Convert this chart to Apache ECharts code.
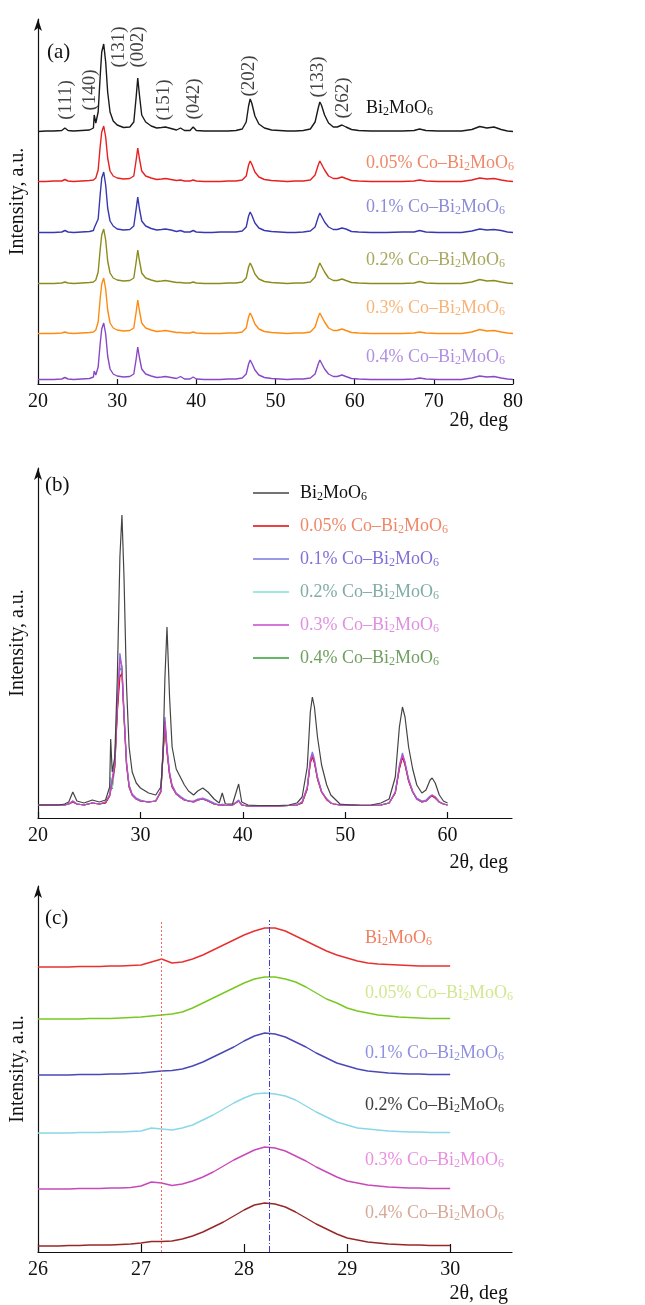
<!DOCTYPE html>
<html>
<head>
<meta charset="utf-8">
<script src="https://cdn.jsdelivr.net/npm/echarts@6/dist/echarts.min.js"></script>
<style>
  html, body { margin: 0; padding: 0; background: #fff; }
  #main { width: 645px; height: 1305px; }
</style>
</head>
<body>
<div id="main"></div>
<script>
// ---- panel (a): 2theta positions and peak heights (above each trace's own baseline)
var angA = [
  20, 21, 22, 23, 23.4, 23.8, 24.5, 25.5, 26.5,
  27.0, 27.1, 27.3, 27.6, 27.85, 28.05, 28.3, 28.55, 28.8, 29.1, 29.5, 30.0,
  30.8, 31.6, 32.1, 32.4, 32.6, 32.8, 33.1, 33.6, 34.3, 35.0,
  35.6, 36.1, 36.8, 37.5, 38.0, 38.5, 39.2, 39.6, 40.0,
  41, 42, 43, 44, 45,
  45.8, 46.3, 46.6, 46.8, 47.0, 47.4, 47.9, 48.6, 49.5, 50.5,
  51.5, 52.5, 53.5, 54.4, 55.0, 55.4, 55.6, 55.8, 56.2, 56.7,
  57.3, 57.8, 58.4, 58.9, 59.6, 60.5,
  62, 64, 66, 67.5, 68.2, 69, 70.5, 72, 73.5,
  74.8, 75.8, 76.7, 77.6, 78.5, 79.3, 80
];
var a_pure = [
  0.5, 1, 1, 1.5, 4, 1.5, 1, 1.5, 2,
  4, 17, 9, 20, 55, 80, 88, 70, 40, 20, 11, 7,
  4.5, 5, 10, 35, 54, 38, 17, 10, 6, 4,
  4.5, 5, 3.5, 2, 4, 1.5, 1.5, 5, 1.5,
  1, 1, 1, 1, 1.5,
  3, 10, 26, 33, 29, 16, 8, 4, 2, 1.5,
  1, 1, 1.5, 3, 10, 24, 30, 27, 17, 9,
  5, 5, 7, 5, 2.5, 1.5,
  1, 1, 1, 1.5, 3, 1.5, 1, 1, 1,
  2.5, 5.5, 4, 5, 2.5, 1, 0.5
];
var a_co005 = [
  0.5, 0.5, 1, 1, 2.5, 1, 0.5, 1, 1.5,
  2, 4, 4, 12, 35, 50, 56, 45, 24, 11, 6, 4,
  3, 3.5, 6, 22, 34, 24, 11, 6, 4, 2.5,
  3, 3.5, 2.5, 1.5, 2, 1, 1, 2, 1,
  0.5, 0.5, 0.5, 1, 1,
  2, 6, 17, 21, 18, 10, 5, 2.5, 1.5, 1,
  0.5, 1, 1, 2, 7, 17, 21, 19, 12, 6,
  3.5, 3.5, 5, 3.5, 1.5, 1,
  0.5, 0.5, 0.5, 1, 2, 1, 0.5, 0.5, 0.5,
  2, 4, 3, 3.5, 2, 1, 0.5
];
var a_co01 = [
  0.5, 0.5, 0.5, 1, 2.5, 1, 0.5, 1, 1.5,
  2.5, 5, 5, 14, 38, 55, 61, 48, 25, 12, 7, 4,
  3, 3.5, 7, 24, 36, 25, 12, 7, 4.5, 3,
  3.5, 4, 3, 1.5, 2.5, 1, 1, 2.5, 1,
  0.5, 0.5, 1, 1, 1,
  2, 6, 17, 21, 18, 10, 5, 2.5, 1.5, 1,
  0.5, 0.5, 1, 2, 6, 16, 20, 18, 11, 6,
  3.5, 3.5, 5, 4, 1.5, 1,
  0.5, 0.5, 1, 1, 2.5, 1, 0.5, 0.5, 0.5,
  2, 4, 3, 3.5, 2.5, 1, 0.5
];
var a_co02 = [
  0.5, 0.5, 0.5, 1, 2, 1, 0.5, 1, 1.5,
  2, 4, 4, 12, 34, 49, 55, 44, 23, 11, 6, 4,
  3, 3.5, 6, 22, 34, 24, 11, 6, 4, 2.5,
  3, 3.5, 2.5, 1.5, 1.5, 1, 1, 2, 1,
  0.5, 0.5, 0.5, 1, 1,
  2, 6, 17, 21, 18, 10, 5, 2.5, 1.5, 1,
  0.5, 1, 1, 2, 7, 17, 21, 19, 12, 6,
  3.5, 3.5, 5, 3.5, 1.5, 1,
  0.5, 0.5, 0.5, 1, 2.5, 1, 0.5, 0.5, 0.5,
  2, 4.5, 3, 3.5, 2, 1, 0.5
];
var a_co03 = [
  0.5, 0.5, 0.5, 1, 2, 1, 0.5, 1, 1.5,
  2, 4, 4, 12, 35, 50, 56, 45, 24, 11, 6, 4,
  3, 3.5, 6, 22, 34, 24, 11, 6, 4, 2.5,
  3, 3.5, 2.5, 1.5, 1.5, 1, 1, 2, 1,
  0.5, 0.5, 0.5, 1, 1,
  2, 6, 17, 21, 18, 10, 5, 2.5, 1.5, 1,
  0.5, 1, 1, 2, 7, 17, 21, 19, 12, 6,
  3.5, 3.5, 5, 3.5, 1.5, 1,
  0.5, 0.5, 0.5, 1, 2, 1, 0.5, 0.5, 0.5,
  2, 4.5, 3, 3.5, 2, 1, 0.5
];
var a_co04 = [
  0.5, 0.5, 0.5, 1, 2.5, 1, 0.5, 1, 1.5,
  3, 9, 5, 13, 36, 51, 57, 46, 24, 11, 6, 4,
  3, 3.5, 6, 21, 33, 23, 11, 6, 4, 2.5,
  3, 3.5, 2.5, 1.5, 3.5, 1, 1, 3, 1,
  0.5, 0.5, 0.5, 1, 1,
  2, 6, 16, 20, 17, 10, 5, 2.5, 1.5, 1,
  0.5, 1, 1, 2, 6, 16, 20, 18, 11, 6,
  3.5, 3.5, 5, 3.5, 1.5, 1,
  0.5, 0.5, 0.5, 1, 2, 1, 0.5, 0.5, 0.5,
  2, 4, 3, 3.5, 2, 1, 0.5
];
var offsetsA = [252, 202, 151, 100, 50, 4];

// Miller indices over panel (a)
var millerNames = ['(111)', '(140)', '(131)', '(002)', '(151)', '(042)', '(202)', '(133)', '(262)'];
var millerAngle = [23.5, 26.6, 30.2, 32.6, 35.9, 39.7, 46.6, 55.4, 58.5];
var millerLevel = [284, 294, 337, 337, 284, 285, 308, 307, 286];

// ---- panel (b): overlaid patterns, 20-60 deg
var angB = [
  20, 21, 22, 22.6, 23.0, 23.4, 23.8, 24.5, 25.3, 26, 26.6,
  27.0, 27.1, 27.25, 27.5, 27.75, 28.0, 28.2, 28.4, 28.65, 28.9, 29.2, 29.6, 30.0,
  30.8, 31.5, 32.0, 32.2, 32.4, 32.6, 32.85, 33.1, 33.5, 34.0, 34.3, 34.7,
  35.2, 35.6, 36.1, 36.6, 37.2, 37.7, 38.0, 38.3, 39.0, 39.6, 39.9, 40.5,
  41.5, 42.5, 43.5, 44.5, 45.3,
  45.8, 46.3, 46.6, 46.8, 47.0, 47.3, 47.7, 48.2, 48.6, 48.9, 49.5,
  50.5, 51.5, 52.5, 53.5, 54.3, 54.9, 55.3, 55.6, 55.85, 56.2, 56.6,
  57.0, 57.5, 57.9, 58.3, 58.5, 58.8, 59.2, 59.6, 60
];
var b_pure = [
  2, 2, 2, 3, 5, 15, 6, 4, 7, 5, 7,
  20, 68, 35, 50, 130, 250, 292, 230, 120, 60, 35, 24, 19,
  14, 12, 20, 50, 130, 180, 110, 60, 38, 28, 22, 16,
  12, 16, 19, 15, 8, 4, 14, 3, 3, 23, 5, 2,
  1.5, 1.5, 1.5, 2, 4,
  10, 40, 95, 110, 100, 70, 42, 22, 12, 9, 3,
  2, 2, 2, 4, 8, 30, 80, 100, 90, 60, 38,
  22, 14, 17, 27, 29, 24, 12, 6, 4
];
var b_co005 = [
  2, 2, 2, 2, 3, 5, 3, 2, 4, 3, 4,
  11, 16, 18, 40, 95, 130, 134, 90, 42, 20, 12, 8, 6,
  5, 6, 15, 50, 82, 55, 32, 20, 13, 9, 7, 6,
  5, 7, 8, 6, 3, 2, 2, 1.5, 2, 6, 2, 1,
  1, 1, 1, 1.5, 2,
  4, 18, 44, 50, 44, 28, 15, 7, 4, 3, 2,
  2, 1.5, 1.5, 2, 4, 14, 38, 50, 42, 26, 15,
  8, 5, 6, 10, 11, 9, 5, 3, 2
];
var b_co01 = [
  2, 2, 2, 2, 3, 6, 3, 2, 4, 3, 5,
  12, 18, 20, 45, 105, 154, 140, 95, 45, 22, 13, 9, 7,
  5, 6, 16, 55, 90, 60, 35, 22, 14, 10, 8, 6,
  6, 8, 9, 7, 4, 2, 3, 1.5, 2, 7, 2, 1,
  1, 1, 1, 1.5, 2,
  5, 20, 48, 55, 48, 30, 16, 8, 4, 3, 2,
  2, 1.5, 1.5, 2, 4, 15, 42, 54, 45, 28, 16,
  9, 6, 7, 11, 12, 10, 5, 3, 2
];
var b_co02 = [
  2, 2, 2, 2, 3, 5, 3, 2, 4, 3, 5,
  12, 30, 19, 42, 100, 142, 138, 92, 43, 21, 12, 8, 6,
  5, 6, 16, 52, 85, 57, 33, 21, 13, 9, 7, 6,
  5, 7, 8, 6, 3, 2, 2.5, 1.5, 2, 6.5, 2, 1,
  1, 1, 1, 1.5, 2,
  5, 19, 45, 51, 45, 29, 15, 8, 4, 3, 2,
  2, 1.5, 1.5, 2, 4, 15, 40, 51, 43, 27, 15,
  8, 5, 6, 10, 11, 10, 5, 3, 2
];
var b_co03 = [
  2, 2, 2, 2, 3, 6, 3, 2, 4, 3, 5,
  12, 17, 19, 44, 102, 148, 140, 94, 44, 21, 12, 8, 6,
  5, 6, 16, 54, 86, 58, 34, 21, 13, 9, 7, 6,
  5, 7, 8, 6, 3, 2, 2, 1.5, 2, 6, 2, 1,
  1, 1, 1, 1.5, 2,
  5, 19, 46, 52, 46, 29, 15, 8, 4, 3, 2,
  2, 1.5, 1.5, 2, 4, 15, 40, 52, 44, 27, 15,
  8, 5, 6, 10, 12, 10, 5, 3, 2
];
var b_co04 = [
  2, 2, 2, 2, 3, 5, 3, 2, 4, 3, 4,
  11, 28, 18, 41, 98, 140, 136, 91, 42, 20, 12, 8, 6,
  5, 6, 15, 51, 84, 56, 33, 20, 13, 9, 7, 6,
  5, 7, 8, 6, 3, 2, 2, 1.5, 2, 6, 2, 1,
  1, 1, 1, 1.5, 2,
  4, 18, 45, 51, 45, 28, 15, 8, 4, 3, 2,
  2, 1.5, 1.5, 2, 4, 14, 39, 51, 43, 26, 15,
  8, 5, 6, 10, 11, 9, 5, 3, 2
];
var baseB = 11;

// ---- panel (c): zoom on the (131) reflection, 26-30 deg
var angC = [
  26.0, 26.1, 26.2, 26.3, 26.4, 26.5, 26.6, 26.7, 26.8, 26.9,
  27.0, 27.1, 27.2, 27.3, 27.4, 27.5, 27.6, 27.7, 27.8, 27.9,
  28.0, 28.1, 28.2, 28.3, 28.4, 28.5, 28.6, 28.7, 28.8, 28.9,
  29.0, 29.1, 29.2, 29.3, 29.4, 29.5, 29.6, 29.7, 29.8, 29.9,
  30.0
];
var c_pure = [
  0, 0, 0, 0, 0.5, 0.5, 0.5, 1, 1, 1.5,
  2, 5, 8, 4, 5, 8, 12, 17, 22, 27,
  32, 36, 39, 39, 36, 31, 26, 21, 16, 12,
  9, 6, 4, 3, 2.5, 2, 1.5, 1, 1, 1,
  1
];
var c_co005 = [
  0, 0, 0, 0, 0, 0.5, 0.5, 0.5, 1, 1.5,
  2, 3, 4, 5, 7, 11, 16, 21, 26, 31,
  36, 40, 42, 42, 40, 37, 32, 26, 20, 16,
  11, 8, 6, 4, 3, 2, 1.5, 1, 0.5, 0.5,
  0.5
];
var c_co01 = [
  0, 0, 0, 0, 0.5, 0.5, 0.5, 1, 1, 1.5,
  2, 3, 4, 4.5, 6, 9, 13, 18, 23, 28,
  34, 39, 42, 41, 38, 33, 28, 22, 17, 12,
  9, 6, 4, 3, 2, 1.5, 1, 1, 0.5, 0.5,
  0.5
];
var c_co02 = [
  0, 0, 0, 0, 0.5, 0.5, 0.5, 1, 1, 1.5,
  2, 5, 4, 3, 5, 8, 13, 18, 24, 30,
  35, 39, 40, 39, 37, 33, 27, 21, 16, 11,
  8, 5, 4, 3, 2, 1.5, 1, 1, 0.5, 0.5,
  0.5
];
var c_co03 = [
  0, 0, 0, 0, 0.5, 0.5, 0.5, 1, 1, 1.5,
  3, 7, 6, 3.5, 5, 8, 12, 17, 23, 29,
  34, 39, 42, 41, 38, 33, 28, 22, 17, 12,
  8, 6, 4, 3, 2, 1.5, 1, 1, 0.5, 0.5,
  0.5
];
var c_co04 = [
  0, 0, 0, 0.5, 0.5, 1, 1, 1, 1.5, 2,
  3, 4.5, 4.5, 5, 7, 10, 14, 19, 24, 30,
  36, 41, 43, 42, 39, 34, 28, 22, 17, 12,
  8, 6, 4, 3, 2, 1.5, 1, 1, 0.5, 0.5,
  0.5
];
var offsetsC = [285, 233, 177, 119, 63, 6];
var refLineAngles = [27.2, 28.24];
var refLineTop = 332;

var sampleNames = ['Bi2MoO6', '0.05% Co–Bi2MoO6', '0.1% Co–Bi2MoO6', '0.2% Co–Bi2MoO6', '0.3% Co–Bi2MoO6', '0.4% Co–Bi2MoO6'];
var samplePrefix = ['', '0.05% Co–', '0.1% Co–', '0.2% Co–', '0.3% Co–', '0.4% Co–'];

var SERIF = '"Liberation Serif", "DejaVu Serif", serif';

function chem(prefix) {
  return (prefix ? '{n|' + prefix + '}' : '') + '{n|Bi}{s|2}{n|MoO}{s|6}';
}
var richSub = {
  n: { fontSize: 18, fontFamily: SERIF, lineHeight: 20 },
  s: { fontSize: 12, fontFamily: SERIF, lineHeight: 12, verticalAlign: 'bottom' }
};

function trace(name, g, angles, heights, offset, color, width) {
  return {
    name: name, type: 'line', xAxisIndex: g, yAxisIndex: g,
    data: angles.map(function (a, i) { return [a, heights[i] + offset]; }),
    symbol: 'none', showSymbol: false, silent: true,
    lineStyle: { color: color, width: width },
    itemStyle: { color: color }
  };
}

var myChart = echarts.init(document.getElementById('main'), null, { renderer: 'canvas' });

var xAxisCommon = {
  type: 'value',
  axisLine: { lineStyle: { color: '#111', width: 1.2 } },
  axisTick: { inside: true, length: 6, lineStyle: { color: '#111', width: 1.2 } },
  axisLabel: { color: '#111', fontSize: 20, fontFamily: SERIF, margin: 8 },
  splitLine: { show: false }
};
function yAx(g, max) {
  return {
    type: 'value', gridIndex: g, min: 0, max: max,
    name: 'Intensity, a.u.', nameLocation: 'middle', nameRotate: 90, nameGap: 10,
    nameTextStyle: { color: '#111', fontSize: 20, fontFamily: SERIF },
    axisLine: { show: true, symbol: ['none', 'arrow'], symbolSize: [6, 12], lineStyle: { color: '#111', width: 1.2 } },
    axisTick: { show: false }, axisLabel: { show: false }, splitLine: { show: false }
  };
}

var colA = ['#1a1a1a', '#e82020', '#3838b0', '#8c8c1c', '#ff8a10', '#8848c8'];
var txtA = ['#111111', '#f08868', '#8c8cd8', '#a8a860', '#f8b478', '#b090e0'];
var dataA = [a_pure, a_co005, a_co01, a_co02, a_co03, a_co04];
var labelYA = [108, 163, 207, 260, 308, 357];

var colB = ['#444444', '#e80000', '#7878e0', '#80e0d8', '#c848c8', '#30a030'];
var txtB = ['#111111', '#f08868', '#8070d8', '#80aca8', '#e090e0', '#70a060'];
var dataB = [b_pure, b_co005, b_co01, b_co02, b_co03, b_co04];

var colC = ['#e83030', '#78c820', '#4848b8', '#88d8e8', '#c848b8', '#982828'];
var txtC = ['#f08060', '#d0e890', '#9090e0', '#404040', '#e890e0', '#d8a898'];
var dataC = [c_pure, c_co005, c_co01, c_co02, c_co03, c_co04];
var labelYC = [938, 993, 1053, 1105, 1160, 1213];

var series = [];
for (var i = 0; i < 6; i++) {
  series.push(trace('a' + i, 0, angA, dataA[i], offsetsA[i], colA[i], 1.4));
}
// draw Co samples first, pure Bi2MoO6 on top
[5, 3, 1, 2, 4, 0].forEach(function (i) {
  series.push(trace(sampleNames[i], 1, angB, dataB[i], baseB, colB[i], 1.2));
});
for (var k = 0; k < 6; k++) {
  series.push(trace('c' + k, 2, angC, dataC[k], offsetsC[k], colC[k], 1.4));
}

// Miller index labels
series.push({
  type: 'scatter', xAxisIndex: 0, yAxisIndex: 0, symbolSize: 0, silent: true,
  data: millerNames.map(function (n, i) { return { name: n, value: [millerAngle[i], millerLevel[i]] }; }),
  label: { show: true, position: 'inside', rotate: 90, formatter: '{b}', color: '#111', fontSize: 19, fontFamily: SERIF }
});

// reference lines in panel (c)
series.push({
  type: 'line', xAxisIndex: 2, yAxisIndex: 2, data: [], silent: true,
  markLine: {
    symbol: 'none', silent: true, animation: false, label: { show: false },
    data: [
      [{ coord: [refLineAngles[0], 0], lineStyle: { color: '#f06868', type: [2, 2], width: 1 } },
       { coord: [refLineAngles[0], refLineTop] }],
      [{ coord: [refLineAngles[1], 0], lineStyle: { color: '#3c3cd0', type: [6, 2, 1, 2], width: 1 } },
       { coord: [refLineAngles[1], refLineTop] }]
    ]
  }
});

var graphics = [];
function txt(x, y, text, color, size, align, rich) {
  graphics.push({
    type: 'text', x: x, y: y, silent: true,
    style: {
      text: text, fill: color, font: size + 'px ' + SERIF,
      align: align || 'left', verticalAlign: 'middle', rich: rich
    }
  });
}
txt(47, 52, '(a)', '#111', 21);
txt(45, 485, '(b)', '#111', 21);
txt(45, 918, '(c)', '#111', 21);
txt(508, 421, '2θ, deg', '#111', 20, 'right');
txt(508, 863, '2θ, deg', '#111', 20, 'right');
txt(508, 1294, '2θ, deg', '#111', 20, 'right');
for (var j = 0; j < 6; j++) {
  txt(366, labelYA[j], chem(samplePrefix[j]), txtA[j], 18, 'left', richSub);
  txt(365, labelYC[j], chem(samplePrefix[j]), txtC[j], 18, 'left', richSub);
}

myChart.setOption({
  animation: false,
  backgroundColor: '#fff',
  grid: [
    { left: 37, right: 132, top: 19, bottom: 921 },
    { left: 37, right: 133, top: 468, bottom: 487 },
    { left: 37, right: 133, top: 886, bottom: 53 }
  ],
  xAxis: [
    Object.assign({}, xAxisCommon, { gridIndex: 0, min: 20, max: 80, interval: 10,
      axisTick: { inside: true, length: 5, lineStyle: { color: '#111', width: 1.2 } } }),
    Object.assign({}, xAxisCommon, { gridIndex: 1, min: 20, max: 66.3,
      axisTick: { inside: true, length: 6, customValues: [20, 30, 40, 50, 60], lineStyle: { color: '#111', width: 1.2 } },
      axisLabel: { color: '#111', fontSize: 20, fontFamily: SERIF, margin: 8, customValues: [20, 30, 40, 50, 60] } }),
    Object.assign({}, xAxisCommon, { gridIndex: 2, min: 26, max: 30.6,
      axisTick: { inside: true, length: 8, customValues: [26, 27, 28, 29, 30], lineStyle: { color: '#111', width: 1.2 } },
      axisLabel: { color: '#111', fontSize: 20, fontFamily: SERIF, margin: 8, customValues: [26, 27, 28, 29, 30] } })
  ],
  yAxis: [yAx(0, 365), yAx(1, 350), yAx(2, 366)],
  legend: {
    data: sampleNames.map(function (n, i) { return { name: n, textStyle: { color: txtB[i] } }; }),
    orient: 'vertical', left: 248, top: 479, itemGap: 14,
    icon: 'rect', itemWidth: 36, itemHeight: 1.6, selectedMode: false,
    formatter: function (name) { return chem(samplePrefix[sampleNames.indexOf(name)]); },
    textStyle: { fontSize: 18, fontFamily: SERIF, padding: [0, 0, 0, 6], rich: richSub }
  },
  series: series,
  graphic: graphics
});
</script>
</body>
</html>
